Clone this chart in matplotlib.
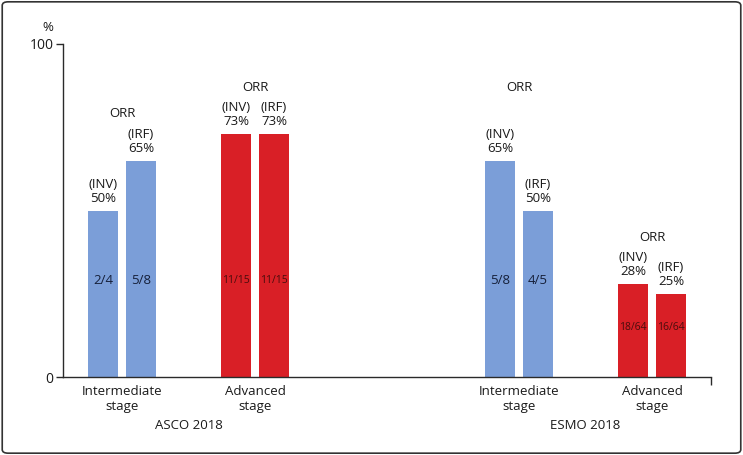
import matplotlib.pyplot as plt
from matplotlib.patches import FancyBboxPatch
from matplotlib.transforms import blended_transform_factory

plt.rcParams['font.family'] = ['Open Sans', 'DejaVu Sans']

# data
conferences = ["ASCO 2018", "ESMO 2018"]
stages = ["Intermediate\nstage", "Advanced\nstage", "Intermediate\nstage", "Advanced\nstage"]
inv_orr = [50, 73, 65, 28]
irf_orr = [65, 73, 50, 25]
inv_frac = ["2/4", "11/15", "5/8", "18/64"]
irf_frac = ["5/8", "11/15", "4/5", "16/64"]
stage_kind = ["int", "adv", "int", "adv"]

# layout
group_x = [59, 192, 456, 589]
orr_y = [79, 87, 87, 42]
frac_y = [29, 29, 29, 15]
colors = {"int": "#7b9ed8", "adv": "#d91f26"}
off, w = 19, 30

fig = plt.figure(figsize=(7.43, 4.55), dpi=100)
fig.patches.append(FancyBboxPatch((0.003, 0.004), 0.994, 0.992, boxstyle="round,pad=0,rounding_size=0.008",
                                  transform=fig.transFigure, fill=False, edgecolor="#333333", linewidth=1.2))
ax = fig.add_axes([0.0848, 0.1714, 0.8722, 0.7319])

for i, gx in enumerate(group_x):
    c = colors[stage_kind[i]]
    xs = [gx - off, gx + off]
    vals = [inv_orr[i], irf_orr[i]]
    ax.bar(xs, vals, width=w, color=c)
    for x, v, tag in zip(xs, vals, ["(INV)", "(IRF)"]):
        ax.annotate(f"{tag}\n{v}%", (x, v), xytext=(0, 4), textcoords="offset points",
                    ha="center", va="bottom", fontsize=9.5, color="#1a1a1a", linespacing=1.12)
    ax.text(gx, orr_y[i], "ORR", ha="center", va="center", fontsize=9.5, color="#1a1a1a")
    fracs = [inv_frac[i], irf_frac[i]]
    for x, f in zip(xs, fracs):
        if stage_kind[i] == "adv":
            ax.text(x, frac_y[i], f, ha="center", va="center", fontsize=7.5, color="#4a0d0d")
        else:
            ax.text(x, frac_y[i], f, ha="center", va="center", fontsize=9.5, color="#16203a")

trans = blended_transform_factory(ax.transData, fig.transFigure)
ax.text((group_x[0] + group_x[1]) / 2, 0.065, conferences[0], ha="center", va="center",
        fontsize=9.5, color="#1a1a1a", transform=trans)
ax.text((group_x[2] + group_x[3]) / 2, 0.065, conferences[1], ha="center", va="center",
        fontsize=9.5, color="#1a1a1a", transform=trans)

ax.set_xlim(0, 648)
ax.set_ylim(0, 100)
ax.set_yticks([0, 100])
ax.set_yticklabels(["0", "100"], fontsize=10, color="#1a1a1a")
ax.set_xticks(group_x)
ax.set_xticklabels(stages, fontsize=9.5, color="#1a1a1a", linespacing=1.12)
ax.tick_params(axis="x", which="major", length=0, pad=6)
ax.set_xticks([648], minor=True)
ax.tick_params(axis="x", which="minor", length=6, width=1, color="#2a2a2a")
ax.tick_params(axis="y", length=5, width=1, color="#2a2a2a", pad=2)
for s in ["top", "right"]:
    ax.spines[s].set_visible(False)
for s in ["left", "bottom"]:
    ax.spines[s].set_color("#2a2a2a")
    ax.spines[s].set_linewidth(1)
ax.text(-15, 105, "%", ha="center", va="center", fontsize=9.5, color="#1a1a1a", clip_on=False)

fig.savefig("out.png", dpi=100)
